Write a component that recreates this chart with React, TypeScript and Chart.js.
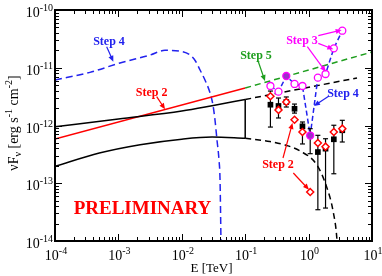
import React, { useEffect, useRef } from "react";
import { Chart, registerables } from "chart.js";

Chart.register(...registerables);

const X_MIN = 1e-4;
const X_MAX = 10;
const Y_MIN = 1e-14;
const Y_MAX = 1e-10;
const X_DECADES = [-4, -3, -2, -1, 0, 1];
const Y_DECADES = [-14, -13, -12, -11, -10];

// Step 1 model band (solid up to 0.1 TeV, dashed extrapolation beyond)
const bandUpperE = [1e-4, 1e-3, 1e-2, 3e-2, 0.1];
const bandUpperF = [9.5e-13, 1.3e-12, 1.78e-12, 2.2e-12, 2.82e-12];
const bandLowerE = [1e-4, 5e-4, 2.2e-3, 1e-2, 3e-2, 0.1];
const bandLowerF = [1.96e-13, 3.34e-13, 4.66e-13, 5.8e-13, 6.3e-13, 6.0e-13];
const bandEdgeE = [0.1, 0.1];
const bandEdgeF = [2.82e-12, 6.0e-13];
const extUpperE = [0.1, 5.8];
const extUpperF = [2.82e-12, 6.65e-12];
const extLowerE = [0.1, 0.245, 0.427, 0.731, 1.35, 1.95, 2.43, 2.81, 2.9];
const extLowerF = [6.0e-13, 5.28e-13, 4.59e-13, 3.63e-13, 2.07e-13, 8.3e-14, 3.3e-14, 1e-14, 5e-15];

// Step 2 (red) and Step 5 (green)
const step2E = [1e-4, 0.1];
const step2F = [5.83e-13, 4.46e-12];
const step5E = [0.1, 10];
const step5F = [4.46e-12, 1.87e-11];

// Step 4 (blue dashed, low-energy bump)
const step4E = [1e-4, 3.56e-4, 1.06e-3, 3.16e-3, 5.43e-3, 9.33e-3, 1.35e-2, 1.64e-2, 1.94e-2,
  2.32e-2, 2.79e-2, 3.1e-2, 3.34e-2, 3.59e-2, 3.86e-2, 4.01e-2, 4.15e-2, 4.2e-2];
const step4F = [6.14e-12, 8.32e-12, 1.21e-11, 1.66e-11, 2.0e-11, 1.93e-11, 1.66e-11, 1.31e-11, 9.14e-12,
  6.14e-12, 3.66e-12, 2.26e-12, 1.24e-12, 5.61e-13, 2.53e-13, 1.14e-13, 1e-14, 5e-15];

// measured points
const dataE = [0.25, 0.335, 0.445, 0.6, 0.8, 1.06, 1.4, 1.85, 2.5, 3.4];
const blackF = [2.29e-12, 2.18e-12, 2.55e-12, 1.95e-12, 9.68e-13, null, 3.47e-13, 3.97e-13, 5.77e-13, 8.26e-13];
const errLo = [9.4e-13, 1.35e-12, 2.09e-12, 1.64e-12, 4.79e-13, 3.25e-13, 3.48e-14, 3.72e-14, 1.46e-13, 5.18e-13];
const errHi = [3.95e-12, 2.99e-12, 3.12e-12, 2.35e-12, 1.15e-12, 8.81e-13, 6.76e-13, 5.9e-13, 1.01e-12, 1.23e-12];
const redF = [3.21e-12, 1.86e-12, 2.55e-12, 1.26e-12, 7.71e-13, 7.05e-14, 4.98e-13, 4.3e-13, 7.71e-13, 8.81e-13];
const step3F = [4.83e-12, 3.85e-12, 7.19e-12, 5.24e-12, 4.83e-12, 6.7e-13, 6.73e-12, 7.8e-12, 2.17e-11, 4.38e-11];
const step3Filled = [false, false, true, false, false, true, false, false, false, false];

const BLUE = "#2222ee";
const RED = "#ff0000";
const GREEN = "#1e9e1e";
const MAGENTA = "#ff00ff";
const PURPLE = "#9a2fc8";
const SERIF = '"Liberation Serif", "Times New Roman", serif';

// annotations in log10 (E, F) coordinates
const annoTexts = [
  { t: "Step 4", c: BLUE, lx: -3.148, ly: -10.606 },
  { t: "Step 2", c: RED, lx: -2.475, ly: -11.482 },
  { t: "Step 5", c: GREEN, lx: -0.83, ly: -10.84 },
  { t: "Step 3", c: MAGENTA, lx: -0.104, ly: -10.597 },
  { t: "Step 4", c: BLUE, lx: 0.543, ly: -11.503 },
  { t: "Step 2", c: RED, lx: -0.483, ly: -12.736 },
];
const annoArrows = [
  { c: BLUE, a: [-3.185, -10.635], b: [-3.08, -10.895] },
  { c: RED, a: [-2.396, -11.501], b: [-2.265, -11.719] },
  { c: GREEN, a: [-0.793, -10.895], b: [-0.688, -11.229] },
  { c: MAGENTA, a: [0.153, -10.445], b: [0.522, -10.346] },
  { c: MAGENTA, a: [0.153, -10.577], b: [0.39, -10.681] },
  { c: MAGENTA, a: [-0.02, -10.635], b: [0.27, -11.068] },
  { c: BLUE, a: [0.322, -11.489], b: [0.085, -11.662] },
  { c: RED, a: [-0.404, -12.563], b: [-0.254, -11.957] },
  { c: RED, a: [-0.241, -12.823], b: [0.006, -13.112] },
];
const prelim = { t: "PRELIMINARY", lx: -2.62, ly: -13.532 };

const pts = (E: number[], F: (number | null)[]) => E.map((x, i) => ({ x, y: F[i] }));

const overlay = {
  id: "overlay",
  afterDraw(chart: any) {
    const ctx: CanvasRenderingContext2D = chart.ctx;
    const xs = chart.scales.x;
    const ys = chart.scales.y;
    const { left, right, top, bottom } = chart.chartArea;
    const PX = (lx: number) => xs.getPixelForValue(Math.pow(10, lx));
    const PY = (ly: number) => ys.getPixelForValue(Math.pow(10, ly));
    ctx.save();

    // annotations
    ctx.lineWidth = 1.2;
    for (const ar of annoArrows) {
      const x1 = PX(ar.a[0]), y1 = PY(ar.a[1]), x2 = PX(ar.b[0]), y2 = PY(ar.b[1]);
      ctx.strokeStyle = ar.c;
      ctx.fillStyle = ar.c;
      const ang = Math.atan2(y2 - y1, x2 - x1);
      const hl = 6, hw = 2.6;
      ctx.beginPath();
      ctx.moveTo(x1, y1);
      ctx.lineTo(x2 - Math.cos(ang) * hl * 0.8, y2 - Math.sin(ang) * hl * 0.8);
      ctx.stroke();
      ctx.beginPath();
      ctx.moveTo(x2, y2);
      ctx.lineTo(x2 - Math.cos(ang) * hl - Math.sin(ang) * hw, y2 - Math.sin(ang) * hl + Math.cos(ang) * hw);
      ctx.lineTo(x2 - Math.cos(ang) * hl + Math.sin(ang) * hw, y2 - Math.sin(ang) * hl - Math.cos(ang) * hw);
      ctx.closePath();
      ctx.fill();
    }
    ctx.textAlign = "center";
    ctx.textBaseline = "alphabetic";
    ctx.font = `bold 12px ${SERIF}`;
    for (const a of annoTexts) {
      ctx.fillStyle = a.c;
      ctx.fillText(a.t, PX(a.lx), PY(a.ly));
    }
    ctx.font = `bold 19px ${SERIF}`;
    ctx.fillStyle = RED;
    ctx.fillText(prelim.t, PX(prelim.lx), PY(prelim.ly));

    // frame
    ctx.strokeStyle = "#000";
    ctx.lineWidth = 2;
    ctx.strokeRect(left, top, right - left, bottom - top);

    // ticks
    ctx.lineWidth = 1;
    const seg = (x1: number, y1: number, x2: number, y2: number) => {
      ctx.beginPath();
      ctx.moveTo(x1, y1);
      ctx.lineTo(x2, y2);
      ctx.stroke();
    };
    for (let d = -4; d <= 0; d++) {
      for (let m = 1; m <= 9; m++) {
        const px = Math.round(xs.getPixelForValue(m * Math.pow(10, d))) + 0.5;
        const len = m === 1 ? 7 : 4;
        seg(px, bottom, px, bottom - len);
        seg(px, top, px, top + len);
      }
    }
    for (let d = -14; d <= -11; d++) {
      for (let m = 1; m <= 9; m++) {
        const py = Math.round(ys.getPixelForValue(m * Math.pow(10, d))) + 0.5;
        const len = m === 1 ? 7 : 4;
        seg(left, py, left + len, py);
        seg(right, py, right - len, py);
      }
    }

    // tick labels
    ctx.fillStyle = "#000";
    ctx.textAlign = "left";
    const baseFont = `14px ${SERIF}`;
    const supFont = `10px ${SERIF}`;
    const label = (e: number, cx: number, base: number, mode: "center" | "right") => {
      ctx.font = baseFont;
      const w1 = ctx.measureText("10").width;
      ctx.font = supFont;
      const s = String(e);
      const w2 = ctx.measureText(s).width;
      const x0 = mode === "center" ? cx - (w1 + w2) / 2 + 1 : cx - w1 - w2;
      ctx.font = baseFont;
      ctx.fillText("10", x0, base);
      ctx.font = supFont;
      ctx.fillText(s, x0 + w1, base - 6);
    };
    for (const e of X_DECADES) {
      label(e, xs.getPixelForValue(Math.pow(10, e)), bottom + 19, "center");
    }
    for (const e of Y_DECADES) {
      label(e, left - 2, ys.getPixelForValue(Math.pow(10, e)) + 7, "right");
    }

    // axis titles
    ctx.font = `13px ${SERIF}`;
    ctx.textAlign = "center";
    ctx.fillText("E [TeV]", (left + right) / 2 - 2, bottom + 31);

    ctx.save();
    ctx.translate(18, 123);
    ctx.rotate(-Math.PI / 2);
    const parts: [string, number][] = [
      ["\u03BDF", 0], ["\u03BD", 1], [" [erg s", 0], ["-1", -1], [" cm", 0], ["-2", -1], ["]", 0],
    ];
    const fontFor = (k: number) => (k === 0 ? `14px ${SERIF}` : `10px ${SERIF}`);
    let total = 0;
    for (const [t, k] of parts) {
      ctx.font = fontFor(k);
      total += ctx.measureText(t).width;
    }
    ctx.textAlign = "left";
    let x = -total / 2;
    for (const [t, k] of parts) {
      ctx.font = fontFor(k);
      ctx.fillText(t, x, k === 1 ? 3 : k === -1 ? -6 : 0);
      x += ctx.measureText(t).width;
    }
    ctx.restore();

    ctx.restore();
  },
};

export default function App() {
  const ref = useRef<HTMLCanvasElement>(null);
  useEffect(() => {
    const line = (E: number[], F: number[], color: string, dash: number[], width = 1.5, smooth = false) => ({
      type: "line" as const,
      data: pts(E, F),
      borderColor: color,
      borderWidth: width,
      borderDash: dash,
      pointRadius: 0,
      showLine: true,
      fill: false,
      cubicInterpolationMode: smooth ? ("monotone" as const) : ("default" as const),
      tension: 0,
    });
    const errSets = dataE.map((e, i) => ({
      type: "line" as const,
      data: [{ x: e, y: errLo[i] }, { x: e, y: errHi[i] }],
      borderColor: "#000",
      borderWidth: 1.2,
      pointStyle: "line" as const,
      pointRadius: 2.5,
      pointBorderColor: "#000",
      pointBorderWidth: 1.2,
      showLine: true,
    }));
    const chart = new Chart(ref.current!, {
      type: "scatter",
      data: {
        datasets: [
          {
            data: pts(dataE, step3F),
            pointStyle: "circle",
            pointRadius: 3.5,
            borderColor: MAGENTA,
            borderWidth: 1.3,
            pointBackgroundColor: step3Filled.map((f) => (f ? PURPLE : "#ffffff")),
            showLine: false,
          },
          {
            data: pts(dataE, redF),
            pointStyle: "rectRot",
            pointRadius: 3.5,
            borderColor: RED,
            borderWidth: 1.5,
            pointBackgroundColor: "#ffffff",
            showLine: false,
          },
          {
            data: pts(dataE, blackF),
            pointStyle: "rect",
            pointRadius: 4,
            borderColor: "#000",
            borderWidth: 0,
            pointBackgroundColor: "#000",
            showLine: false,
          },
          ...errSets,
          line(dataE, step3F, BLUE, [5, 3], 1.5),
          line(step5E, step5F, GREEN, [6, 4], 1.5),
          line(extUpperE, extUpperF, "#000", [6, 4], 1.5),
          line(extLowerE, extLowerF, "#000", [6, 4], 1.5, true),
          line(bandUpperE, bandUpperF, "#000", [], 1.5, true),
          line(bandLowerE, bandLowerF, "#000", [], 1.5, true),
          line(bandEdgeE, bandEdgeF, "#000", [], 1.5),
          line(step2E, step2F, RED, [], 1.3),
          line(step4E, step4F, BLUE, [7, 4], 1.5, true),
        ] as any,
      },
      options: {
        responsive: false,
        animation: false,
        devicePixelRatio: 1,
        layout: { padding: { left: 55, right: 10, top: 10, bottom: 35 } },
        plugins: { legend: { display: false }, tooltip: { enabled: false } },
        scales: {
          x: { type: "logarithmic", min: X_MIN, max: X_MAX, display: false },
          y: { type: "logarithmic", min: Y_MIN, max: Y_MAX, display: false },
        },
      },
      plugins: [overlay],
    });
    return () => chart.destroy();
  }, []);
  return (
    <div style={{ position: "fixed", left: 0, top: 0, width: 382, height: 276, background: "#fff" }}>
      <canvas ref={ref} width={382} height={276} style={{ display: "block", width: 382, height: 276 }} />
    </div>
  );
}
